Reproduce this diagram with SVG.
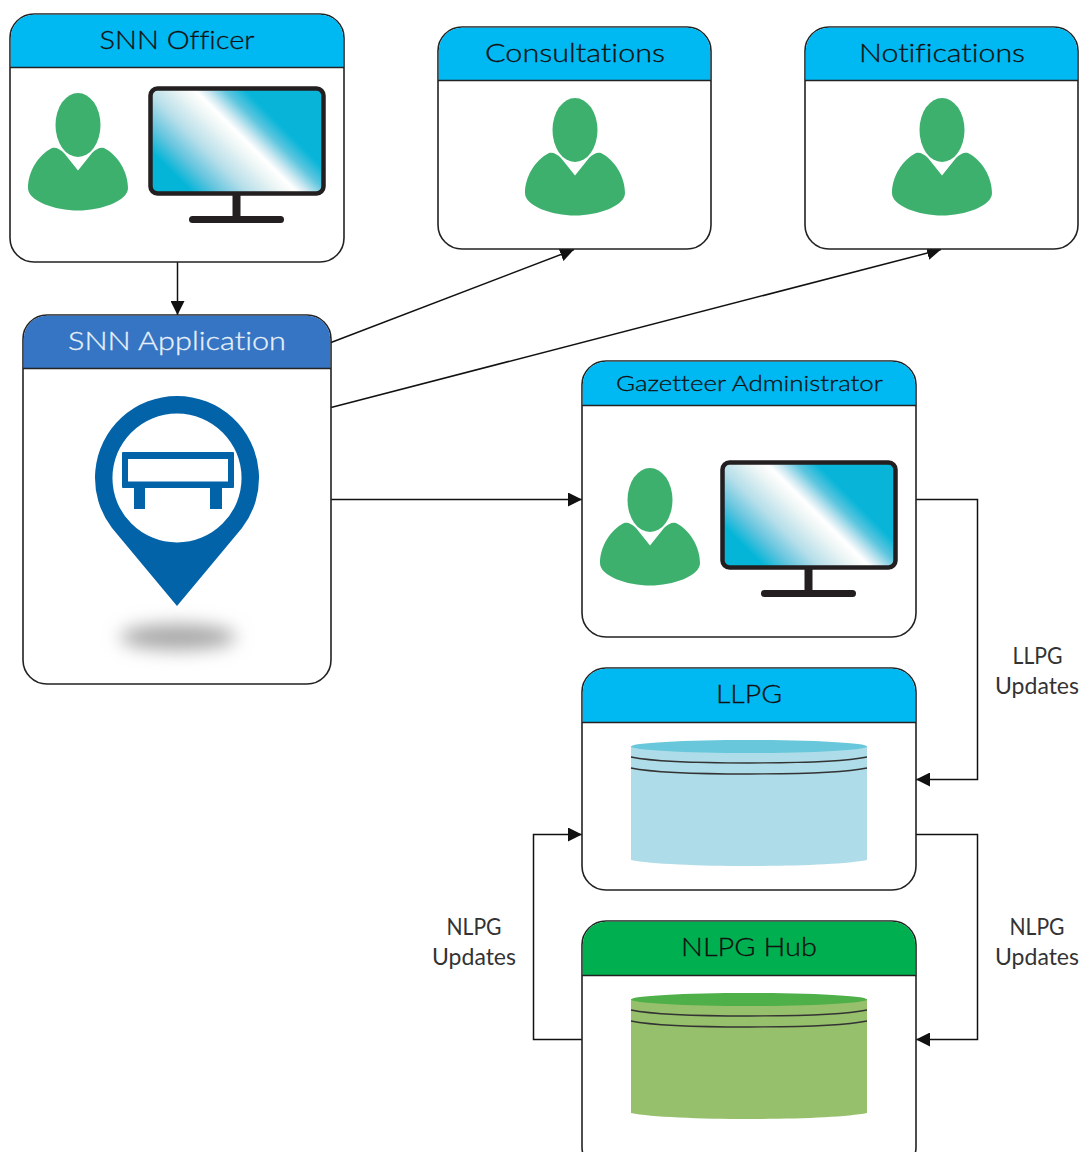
<svg xmlns="http://www.w3.org/2000/svg" width="1082" height="1152" viewBox="0 0 1082 1152">
<style>
.card{fill:#fff;stroke:#222;stroke-width:1.6}
.hline{stroke:#222;stroke-width:1.6;fill:none}
.sky{fill:#00b8f2}
.person{fill:#3eb06e}
.head{font-family:"Lato","Liberation Sans",sans-serif;font-size:26px;font-weight:300;fill:#111;stroke:#111;stroke-width:.3;text-anchor:middle;font-variant-ligatures:none}
.lab{font-family:"Lato","Liberation Sans",sans-serif;font-size:22.500px;fill:#333;text-anchor:middle}
.conn{fill:none;stroke:#111;stroke-width:1.5}
.mon{fill:#231f20}
.cl{fill:none;stroke:#333;stroke-width:1.3}
</style>
<defs>
<linearGradient id="screen" gradientUnits="userSpaceOnUse" x1="189" y1="189" x2="269" y2="109">
<stop offset="0" stop-color="#05b5d8"/><stop offset=".16" stop-color="#62c4de"/><stop offset=".35" stop-color="#b7dfea"/><stop offset=".56" stop-color="#eef6f5"/><stop offset=".656" stop-color="#fff"/><stop offset=".725" stop-color="#cfe9f1"/><stop offset=".84" stop-color="#5fc6df"/><stop offset=".97" stop-color="#08b5d8"/>
</linearGradient>
<filter id="blur" x="-50%" y="-150%" width="200%" height="400%"><feGaussianBlur stdDeviation="9"/></filter>
<marker id="arr" markerUnits="userSpaceOnUse" markerWidth="14" markerHeight="14" refX="14" refY="7" orient="auto"><path d="M0 0L14 7L0 14Z" fill="#111"/></marker>
<g id="person">
<ellipse class="person" cx="78" cy="125" rx="22.500" ry="32"/>
<path class="person" d="M78 170.500L64 153C60 149 56 147 52 148C38 155 28 172 28 188C28 201 55 210.500 78 210.500C101 210.500 128 201 128 188C128 172 118 155 104 148C100 147 96 149 92 153Z"/>
</g>
<g id="monitor">
<rect x="150.500" y="88.500" width="173" height="105" rx="7" fill="url(#screen)" stroke="#231f20" stroke-width="4.500"/>
<rect class="mon" x="232.500" y="195" width="8" height="23"/>
<rect class="mon" x="189" y="216" width="95" height="7" rx="3.500"/>
</g>
</defs>
<g id="connectors">
<path class="conn" marker-end="url(#arr)" d="M177.500 262V315"/>
<path class="conn" marker-end="url(#arr)" d="M331 342.500L574 249.500"/>
<path class="conn" marker-end="url(#arr)" d="M331 407.500L941 249.500"/>
<path class="conn" marker-end="url(#arr)" d="M331 499.500H582"/>
<path class="conn" marker-end="url(#arr)" d="M916 499.500H977.500V779.500H916"/>
<path class="conn" marker-end="url(#arr)" d="M916 834.500H977.500V1039.500H916"/>
<path class="conn" marker-end="url(#arr)" d="M582 1039.500H533.500V834.500H582"/>
</g>
<g id="snn-officer">
<rect class="card" x="10" y="14" width="334" height="248" rx="24"/>
<path class="sky" d="M10.800 67V38A23 23 0 0 1 34 14.800H320A23 23 0 0 1 343.200 38V67Z"/>
<path class="hline" d="M10 67.500H344"/>
<text class="head" x="177" y="48.500" textLength="155" lengthAdjust="spacingAndGlyphs">SNN Officer</text>
<use href="#person"/>
<use href="#monitor"/>
</g>
<g id="consultations">
<rect class="card" x="438" y="27" width="273" height="222" rx="24"/>
<path class="sky" d="M438.800 80V51A23 23 0 0 1 462 27.800H687A23 23 0 0 1 710.200 51V80Z"/>
<path class="hline" d="M438 80.500H711"/>
<text class="head" x="575" y="61.500" textLength="180" lengthAdjust="spacingAndGlyphs">Consultations</text>
<use href="#person" transform="translate(497 5)"/>
</g>
<g id="notifications">
<rect class="card" x="805" y="27" width="273" height="222" rx="24"/>
<path class="sky" d="M805.800 80V51A23 23 0 0 1 829 27.800H1054A23 23 0 0 1 1077.200 51V80Z"/>
<path class="hline" d="M805 80.500H1078"/>
<text class="head" x="942" y="61.500" textLength="166" lengthAdjust="spacingAndGlyphs">Notifications</text>
<use href="#person" transform="translate(864 5)"/>
</g>
<g id="snn-application">
<rect class="card" x="23" y="315" width="308" height="369" rx="24"/>
<path fill="#3575c3" d="M23.800 368V339A23 23 0 0 1 47 315.800H307A23 23 0 0 1 330.200 339V368Z"/>
<path class="hline" d="M23 368.500H331"/>
<text class="head" x="177" y="349.500" textLength="218" lengthAdjust="spacingAndGlyphs" style="fill:#e8f0fa;stroke:#e8f0fa">SNN Application</text>
<ellipse cx="178" cy="637" rx="58" ry="13" fill="#a8a8a8" filter="url(#blur)"/>
<path fill="#0363a9" fill-rule="evenodd" d="M177 606L112 528A82 82 0 1 1 242 528ZM177 413.500A64.500 64.500 0 1 0 177 542.500A64.500 64.500 0 1 0 177 413.500Z"/>
<path fill="#0363a9" fill-rule="evenodd" d="M123 452H233Q234 452 234 453V487Q234 488 233 488H222V509H210V488H145V509H134V488H123Q122 488 122 487V453Q122 452 123 452ZM128 459V481.500H228V459Z"/>
</g>
<g id="gazetteer-administrator">
<rect class="card" x="582" y="361" width="334" height="276" rx="24"/>
<path class="sky" d="M582.800 405V385A23 23 0 0 1 606 361.800H892A23 23 0 0 1 915.200 385V405Z"/>
<path class="hline" d="M582 405.500H916"/>
<text class="head" x="749.500" y="391" textLength="267" lengthAdjust="spacingAndGlyphs" style="font-size:22px">Gazetteer Administrator</text>
<use href="#person" transform="translate(572 375)"/>
<use href="#monitor" transform="translate(572 374)"/>
</g>
<g id="llpg">
<rect class="card" x="582" y="668" width="334" height="222" rx="24"/>
<path class="sky" d="M582.800 722V692A23 23 0 0 1 606 668.800H892A23 23 0 0 1 915.200 692V722Z"/>
<path class="hline" d="M582 722.500H916"/>
<text class="head" x="749" y="703" textLength="66" lengthAdjust="spacingAndGlyphs">LLPG</text>
<path fill="#aedce8" d="M631 746V860C670 868 828 868 867 860V746Z"/>
<ellipse cx="749" cy="746.500" rx="118" ry="6.500" fill="#69c7db"/>
<path class="cl" d="M631 757C670 765 828 765 867 757M631 768C670 776 828 776 867 768"/>
</g>
<g id="nlpg-hub">
<rect class="card" x="582" y="921" width="334" height="250" rx="24"/>
<path fill="#00b050" d="M582.800 975V945A23 23 0 0 1 606 921.800H892A23 23 0 0 1 915.200 945V975Z"/>
<path class="hline" d="M582 975.500H916"/>
<text class="head" x="749" y="956" textLength="136" lengthAdjust="spacingAndGlyphs">NLPG Hub</text>
<path fill="#97c06d" d="M631 999V1113C670 1121 828 1121 867 1113V999Z"/>
<ellipse cx="749" cy="999.500" rx="118" ry="6.500" fill="#4fb04a"/>
<path class="cl" d="M631 1010C670 1018 828 1018 867 1010M631 1021C670 1029 828 1029 867 1021"/>
</g>
<g id="labels">
<text class="lab" x="1037.500" y="663.500" textLength="50" lengthAdjust="spacingAndGlyphs">LLPG</text>
<text class="lab" x="1037" y="693.500" textLength="84" lengthAdjust="spacingAndGlyphs">Updates</text>
<text class="lab" x="1037" y="934.500" textLength="55" lengthAdjust="spacingAndGlyphs">NLPG</text>
<text class="lab" x="1037" y="964.500" textLength="84" lengthAdjust="spacingAndGlyphs">Updates</text>
<text class="lab" x="474" y="934.500" textLength="55" lengthAdjust="spacingAndGlyphs">NLPG</text>
<text class="lab" x="474" y="964.500" textLength="84" lengthAdjust="spacingAndGlyphs">Updates</text>
</g>
</svg>
